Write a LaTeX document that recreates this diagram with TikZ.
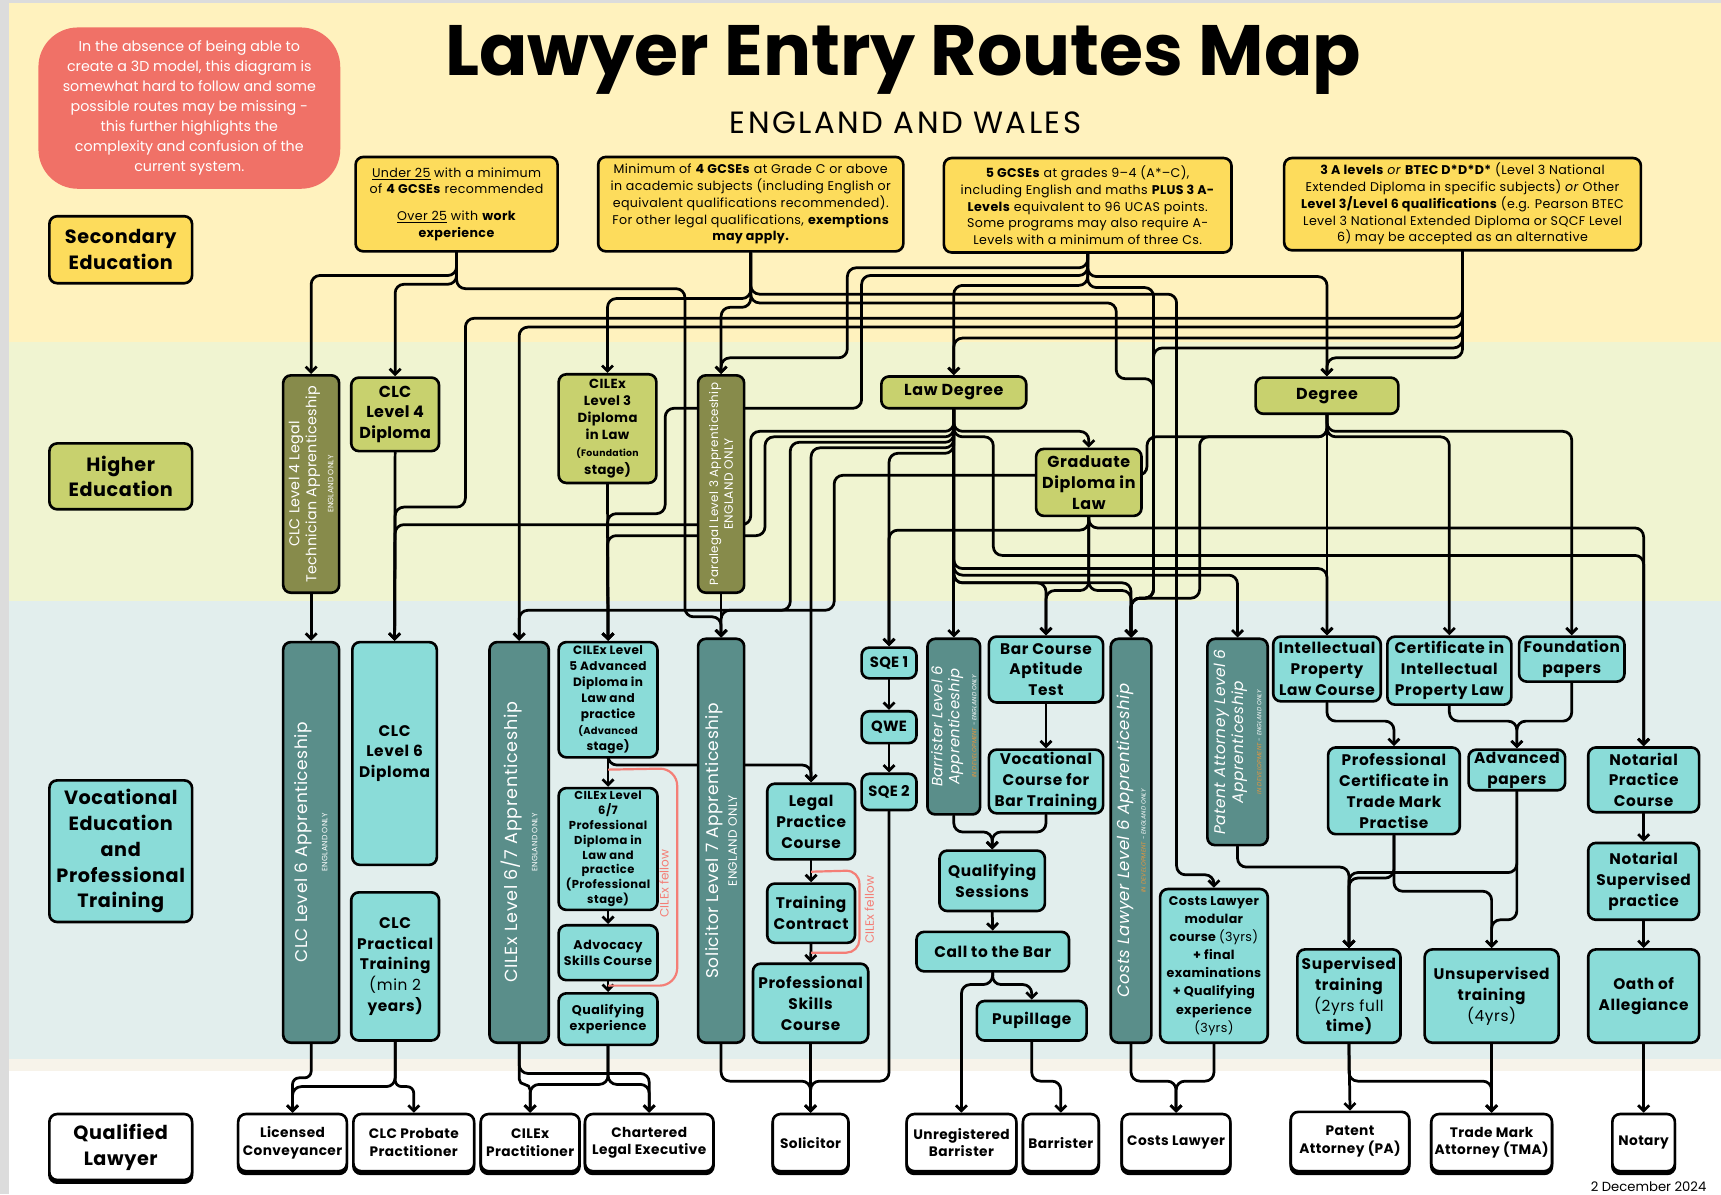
\documentclass[tikz,border=0pt]{standalone}
\usepackage{fontspec}
\setmainfont{Poppins}
\usetikzlibrary{arrows.meta}
\definecolor{bandY}{HTML}{FFF2BE}
\definecolor{bandG}{HTML}{F0F4D1}
\definecolor{bandT}{HTML}{E2EEED}
\definecolor{bandB}{HTML}{F7F3EA}
\definecolor{greyedge}{HTML}{DCDCDC}
\definecolor{cY}{HTML}{FDDC5C}
\definecolor{cO}{HTML}{C8D16E}
\definecolor{cDO}{HTML}{878B4B}
\definecolor{cT}{HTML}{8ADCD8}
\definecolor{cDT}{HTML}{5A8E8A}
\definecolor{cRed}{HTML}{F07167}
\definecolor{cRedL}{HTML}{F47E76}
\definecolor{cOr}{HTML}{E8963C}
\newcommand\Fs[2]{\fontsize{#1}{#2}\selectfont}
\newcommand\Ls[1]{\addfontfeature{LetterSpace=#1}}
\newcommand\Bx[7]{\node[#6, minimum width={(#4-#2)*1pt}, minimum height={(#5-#3)*1pt}] (#1) at ({(#2+#4)/2},{(#3+#5)/2}) {#7};}
\pgfdeclarelayer{bg}
\pgfdeclarelayer{lines}
\pgfsetlayers{bg,lines,main}
\tikzset{
 box/.style={draw, line width=2.4pt, rounded corners=7pt, align=center, inner sep=0pt},
 ybox/.style={box, fill=cY, font=\Fs{11.5}{15.3}\Ls{3}},
 obox/.style={box, fill=cO, font=\bfseries\Fs{14.5}{19}\Ls{4}},
 dobox/.style={box, fill=cDO},
 tbox/.style={box, fill=cT, font=\bfseries\Fs{14}{19}\Ls{4}},
 dtbox/.style={box, fill=cDT},
 wbox/.style={box, fill=white, font=\bfseries\Fs{12.5}{16}\Ls{3}, preaction={draw, fill=black, transform canvas={yshift=-2.5pt}}},
 lblbox/.style={box, font=\bfseries\Fs{17.5}{23.5}\Ls{3}},
 vtext/.style={rotate=90, text=white, align=center, inner sep=0pt},
 conn/.style={draw, line width=2.5pt, rounded corners=8pt, line cap=round, line join=round, -{Straight Barb[length=5pt,width=10pt]}},
 redln/.style={draw=cRedL, line width=2pt, rounded corners=16pt},
 redlbl/.style={rotate=90, text=cRedL, font=\Fs{11}{12}, inner sep=0pt}
}
\begin{document}
\begin{tikzpicture}[x=1pt,y=-1pt]
\useasboundingbox (0,0) rectangle (1568,1088);
\begin{pgfonlayer}{bg}
\fill[white] (0,0) rectangle (1568,1088);
\fill[greyedge] (0,0) rectangle (1568,3);
\fill[greyedge] (0,0) rectangle (8,1088);
\fill[bandY] (8,3) rectangle (1568,312);
\fill[bandG] (8,312) rectangle (1568,548);
\fill[bandT] (8,548) rectangle (1568,965);
\fill[bandB] (8,965) rectangle (1568,976);
\end{pgfonlayer}

% title
\node[font=\bfseries\Fs{65}{70}, inner sep=0pt] (title) at (823,55) {Lawyer Entry Routes Map};
\node[font=\Fs{28}{30}\Ls{8}, inner sep=0pt] (subtitle) at (825,112) {ENGLAND AND WALES};
\node[fill=cRed, rounded corners=36pt, minimum width=275pt, minimum height=147pt, text=white, align=center, font=\Fs{13}{18.3}, inner sep=0pt] (note) at (172.5,98.5) {In the absence of being able to\\create a 3D model, this diagram is\\somewhat hard to follow and some\\possible routes may be missing -\\this further highlights the\\complexity and confusion of the\\current system.};
\node[font=\Fs{12}{14}, anchor=south, inner sep=0pt] (date) at (1502,1086) {2 December 2024};

% row labels
\Bx{lsec}{45}{197}{175}{258}{lblbox, fill=cY}{Secondary\\Education}
\Bx{lhigh}{45}{404}{175}{464}{lblbox, fill=cO}{Higher\\Education}
\Bx{lvoc}{45}{711}{175}{840}{lblbox, fill=cT}{Vocational\\Education\\and\\Professional\\Training}
\Bx{lqual}{45}{1015}{175}{1075}{lblbox, fill=white, preaction={draw, fill=black, transform canvas={yshift=-2.5pt}}}{Qualified\\Lawyer}

% secondary
\Bx{s1}{324}{143}{508}{229}{ybox}{\underline{Under 25} with a minimum\\of \textbf{4 GCSEs} recommended\\[9pt]\underline{Over 25} with \textbf{work}\\\textbf{experience}}
\Bx{s2}{545}{143}{823}{229}{ybox}{Minimum of \textbf{4 GCSEs} at Grade C or above\\in academic subjects (including English or\\equivalent qualifications recommended).\\For other legal qualifications, \textbf{exemptions}\\\textbf{may apply.}}
\Bx{s3}{860}{144}{1122}{230}{ybox}{\textbf{5 GCSEs} at grades 9–4 (A*–C),\\including English and maths \textbf{PLUS 3 A-}\\\textbf{Levels} equivalent to 96 UCAS points.\\Some programs may also require A-\\Levels with a minimum of three Cs.}
\Bx{s4}{1170}{144}{1495}{228}{ybox}{\textbf{3 A levels} \textit{or} \textbf{BTEC D*D*D*} (Level 3 National\\Extended Diploma in specific subjects) \textit{or} Other\\\textbf{Level 3/Level 6 qualifications} (e.g. Pearson BTEC\\Level 3 National Extended Diploma or SQCF Level\\6) may be accepted as an alternative}

% higher
\Bx{ctech}{258}{342}{309}{540}{dobox}{}
\node[vtext, font=\Fs{13}{15.5}\Ls{2}] (ctecht) at (ctech.center) {CLC Level 4 Legal\\Technician Apprenticeship\\\Fs{7}{9}ENGLAND ONLY};
\Bx{clc4}{320}{344}{400}{411}{obox, font=\bfseries\Fs{14.5}{19}\Ls{2}}{CLC\\Level 4\\Diploma}
\Bx{cil3}{509}{341}{598}{440}{obox, font=\bfseries\Fs{12}{15.5}\Ls{3}}{CILEx\\Level 3\\Diploma\\in Law\\\Fs{8.5}{11}(Foundation\\stage)}
\Bx{para}{636}{342}{678}{540}{dobox}{}
\node[vtext, font=\Fs{10.8}{13.5}\Ls{3}] (parat) at (para.center) {Paralegal Level 3 Apprenticeship\\\Fs{11}{13}ENGLAND ONLY};
\Bx{lawdeg}{803}{343}{935}{372}{obox}{Law Degree}
\Bx{deg}{1144}{344}{1274}{377}{obox}{Degree}
\Bx{gdl}{944}{409}{1040}{470}{obox}{Graduate\\Diploma in\\Law}

% vocational
\Bx{capp}{258}{585}{309}{950}{dtbox}{}
\node[vtext, font=\Fs{15.5}{18}\Ls{3}] (cappt) at (capp.center) {CLC Level 6 Apprenticeship\\\Fs{7}{9}ENGLAND ONLY};
\Bx{clc6}{321}{585}{398}{788}{tbox}{CLC\\Level 6\\Diploma}
\Bx{clcpt}{320}{813}{400}{948}{tbox}{CLC\\Practical\\Training\\\mdseries (min 2\\years)}
\Bx{cilapp}{446}{585}{500}{950}{dtbox}{}
\node[vtext, font=\Fs{16}{18}\Ls{4}] (cilappt) at (cilapp.center) {CILEx Level 6/7 Apprenticeship\\\Fs{7}{9}ENGLAND ONLY};
\Bx{cil5}{509}{585}{599}{690}{tbox, font=\bfseries\Fs{11}{14.5}\Ls{3}}{CILEx Level\\5 Advanced\\Diploma in\\Law and\\practice\\\Fs{9}{12.5}(Advanced\\stage)}
\Bx{cil67}{509}{718}{599}{829}{tbox, font=\bfseries\Fs{10.5}{13.5}\Ls{4}}{CILEx Level\\6/7\\Professional\\Diploma in\\Law and\\practice\\(Professional\\stage)}
\Bx{advoc}{509}{843}{599}{893}{tbox, font=\bfseries\Fs{11.5}{15}\Ls{4}}{Advocacy\\Skills Course}
\Bx{qexp}{509}{905}{599}{952}{tbox, font=\bfseries\Fs{11.5}{15}\Ls{4}}{Qualifying\\experience}
\Bx{solapp}{636}{582}{678}{950}{dtbox}{}
\node[vtext, font=\Fs{15.5}{17}\Ls{3}] (solappt) at (solapp.center) {Solicitor Level 7 Apprenticeship\\\Fs{11}{13}ENGLAND ONLY};
\Bx{lpc}{699}{714}{779}{783}{tbox}{Legal\\Practice\\Course}
\Bx{tc}{699}{805}{779}{859}{tbox}{Training\\Contract}
\Bx{psc}{686}{878}{791}{950}{tbox}{Professional\\Skills\\Course}
\Bx{sqe1}{785}{590}{835}{618}{tbox, font=\bfseries\Fs{13.5}{19}\Ls{2}}{SQE 1}
\Bx{qwe}{785}{648}{835}{677}{tbox, font=\bfseries\Fs{13.5}{19}\Ls{2}}{QWE}
\Bx{sqe2}{785}{705}{835}{738}{tbox, font=\bfseries\Fs{13.5}{19}\Ls{2}}{SQE 2}
\Bx{barapp}{845}{582}{893}{742}{dtbox}{}
\node[vtext, font=\itshape\Fs{13.5}{15.5}\Ls{2}] (barappt) at (barapp.center) {Barrister Level 6\\Apprenticeship\\\Fs{5.5}{7}\textcolor{cOr}{IN DEVELOPMENT} - ENGLAND ONLY};
\Bx{bcat}{901}{580}{1005}{640}{tbox}{Bar Course\\Aptitude\\Test}
\Bx{vcbt}{901}{683}{1005}{741}{tbox}{Vocational\\Course for\\Bar Training}
\Bx{qs}{856}{775}{952}{830}{tbox}{Qualifying\\Sessions}
\Bx{ctb}{835}{849}{974}{885}{tbox}{Call to the Bar}
\Bx{pup}{890}{912}{990}{948}{tbox}{Pupillage}
\Bx{costapp}{1012}{582}{1049}{950}{dtbox}{}
\node[vtext, font=\itshape\Fs{15}{15}\Ls{3}] (costappt) at (costapp.center) {Costs Lawyer Level 6 Apprenticeship\\\Fs{5.5}{7}\textcolor{cOr}{IN DEVELOPMENT} - ENGLAND ONLY};
\Bx{costmod}{1057}{810}{1155}{950}{tbox, font=\bfseries\Fs{11.5}{16.5}\Ls{3}}{Costs Lawyer\\modular\\course {\mdseries(3yrs)}\\+ final\\examinations\\+ Qualifying\\experience\\\mdseries(3yrs)}
\Bx{patapp}{1100}{582}{1155}{770}{dtbox}{}
\node[vtext, font=\itshape\Fs{14}{16.5}\Ls{3}] (patappt) at (patapp.center) {Patent Attorney Level 6\\Apprenticeship\\\Fs{5.5}{7}\textcolor{cOr}{IN DEVELOPMENT} - ENGLAND ONLY};
\Bx{iplaw}{1160}{580}{1258}{639}{tbox}{Intellectual\\Property\\Law Course}
\Bx{certip}{1264}{580}{1377}{642}{tbox}{Certificate in\\Intellectual\\Property Law}
\Bx{found}{1384}{580}{1480}{621}{tbox}{Foundation\\papers}
\Bx{pctm}{1210}{681}{1330}{760}{tbox}{Professional\\Certificate in\\Trade Mark\\Practise}
\Bx{advp}{1338}{683}{1426}{720}{tbox}{Advanced\\papers}
\Bx{notpc}{1447}{681}{1548}{740}{tbox}{Notarial\\Practice\\Course}
\Bx{notsp}{1447}{768}{1548}{838}{tbox}{Notarial\\Supervised\\practice}
\Bx{oath}{1447}{865}{1548}{950}{tbox}{Oath of\\Allegiance}
\Bx{suptr}{1182}{865}{1276}{950}{tbox}{Supervised\\training\\\mdseries (2yrs full\\time)}
\Bx{unsup}{1298}{865}{1420}{950}{tbox}{Unsupervised\\training\\\mdseries (4yrs)}

% qualified
\Bx{lc}{217}{1015}{316}{1067}{wbox}{Licensed\\Conveyancer}
\Bx{cpp}{322}{1015}{432}{1067}{wbox}{CLC Probate\\Practitioner}
\Bx{cpr}{438}{1015}{528}{1067}{wbox}{CILEx\\Practitioner}
\Bx{cle}{533}{1015}{650}{1067}{wbox}{Chartered\\Legal Executive}
\Bx{sol}{704}{1015}{773}{1067}{wbox}{Solicitor}
\Bx{ubar}{826}{1015}{926}{1067}{wbox}{Unregistered\\Barrister}
\Bx{bar}{932}{1015}{1001}{1067}{wbox}{Barrister}
\Bx{cl}{1022}{1015}{1121}{1067}{wbox}{Costs Lawyer}
\Bx{pa}{1176}{1013}{1284}{1067}{wbox}{Patent\\Attorney (PA)}
\Bx{tma}{1304}{1015}{1414}{1067}{wbox}{Trade Mark\\Attorney (TMA)}
\Bx{notary}{1469}{1015}{1526}{1067}{wbox}{Notary}

\node[redlbl] (fel1) at (605,805) {CILEx fellow};
\node[redlbl] (fel2) at (792,829) {CILEx fellow};

\begin{pgfonlayer}{lines}
% secondary -> higher
\draw[conn] (s1.south) -- (416,251) -- (283.5,251) -- (ctech.north);
\draw[conn] (s1.south) -- (416,259) -- (360,259) -- (clc4.north);
\draw[conn] (s1.south) -- (416,263) -- (624,263) -- (624,562) -- (657,562) -- (solapp.north);
\draw[conn] (s2.south) -- (684,272) -- (553.5,272) -- (cil3.north);
\draw[conn] (s2.south) -- (684,280) -- (657,280) -- (para.north);
\draw[conn] (s2.south) -- (684,268) -- (1072,268) -- (1072,797) -- (1106,797) -- (costmod.north);
\draw[conn] (s2.south) -- (684,276) -- (1017,276) -- (1017,345) -- (1051,345) -- (1051,545) -- (1030.5,545) -- (costapp.north);
\draw[conn] (s3.south) -- (991,244) -- (772,244) -- (772,326) -- (657,326) -- (para.north);
\draw[conn] (s3.south) -- (991,251) -- (785,251) -- (785,372) -- (606,372) -- (606,468) -- (553.5,468) -- (cil5.north);
\draw[conn] (s3.south) -- (991,260) -- (869,260) -- (lawdeg.north);
\draw[conn] (s3.south) -- (991,252) -- (1209,252) -- (deg.north);
\draw[conn] (s3.south) -- (991,262) -- (1051,262) -- (1051,545) -- (1030.5,545) -- (costapp.north);
\draw[conn] (s4.south) -- (1332.5,290) -- (424,290) -- (424,462) -- (360,462) -- (clc6.north);
\draw[conn] (s4.south) -- (1332.5,298) -- (473,298) -- (cilapp.north);
\draw[conn] (s4.south) -- (1332.5,308) -- (869,308) -- (lawdeg.north);
\draw[conn] (s4.south) -- (1332.5,317) -- (1051,317) -- (1051,545) -- (1030.5,545) -- (costapp.north);
\draw[conn] (s4.south) -- (1332.5,326) -- (1209,326) -- (deg.north);
% higher -> vocational
\draw[conn] (ctech.south) -- (capp.north);
\draw[conn] (clc4.south) -- (clc6.north);
\draw[conn] (cil3.south) -- (cil5.north);
\draw[conn] (para.south) -- (solapp.north);
% law degree
\draw[conn] (lawdeg.south) -- (869,393) -- (684,393) -- (684,478) -- (360,478) -- (clc6.north);
\draw[conn] (lawdeg.south) -- (869,398) -- (697,398) -- (697,488) -- (553.5,488) -- (cil5.north);
\draw[conn] (lawdeg.south) -- (869,403) -- (720,403) -- (720,556) -- (657,556) -- (solapp.north);
\draw[conn] (lawdeg.south) -- (869,408) -- (739,408) -- (lpc.north);
\draw[conn] (lawdeg.south) -- (869,413) -- (810,413) -- (sqe1.north);
\draw[conn] (lawdeg.south) -- (barapp.north);
\draw[conn] (lawdeg.south) -- (869,393) -- (992,393) -- (gdl.north);
\draw[conn] (lawdeg.south) -- (869,398) -- (905,398) -- (905,506) -- (1497.5,506) -- (notpc.north);
\draw[conn] (lawdeg.south) -- (869,518) -- (1209,518) -- (iplaw.north);
\draw[conn] (lawdeg.south) -- (869,524) -- (1127.5,524) -- (patapp.north);
\draw[conn] (lawdeg.south) -- (869,531) -- (953,531) -- (bcat.north);
\draw[conn] (lawdeg.south) -- (869,531) -- (1030.5,531) -- (costapp.north);
% GDL
\draw[conn] (gdl.south) -- (992,483) -- (810,483) -- (sqe1.north);
\draw[conn] (gdl.south) -- (992,481) -- (1497.5,481) -- (notpc.north);
\draw[conn] (gdl.south) -- (992,538) -- (953,538) -- (bcat.north);
\draw[conn] (gdl.south) -- (992,538) -- (1030.5,538) -- (costapp.north);
% degree
\draw[conn] (deg.south) -- (iplaw.north);
\draw[conn] (deg.south) -- (1209,398) -- (1320.5,398) -- (certip.north);
\draw[conn] (deg.south) -- (1209,393) -- (1432,393) -- (found.north);
\draw[conn] (deg.south) -- (1209,398) -- (1093,398) -- (1093,545) -- (1030.5,545) -- (costapp.north);
\draw[conn] (deg.south) -- (1209,398) -- (1045,398) -- (1045,433) -- (760,433) -- (760,556) -- (473,556) -- (cilapp.north);
% vocational inner
\draw[conn] (cil5.south) -- (cil67.north);
\draw[conn] (cil67.south) -- (advoc.north);
\draw[conn] (advoc.south) -- (qexp.north);
\draw[conn] (cil5.south) -- (554,697) -- (739,697) -- (lpc.north);
\draw[conn] (lpc.south) -- (tc.north);
\draw[conn] (tc.south) -- (psc.north);
\draw[conn] (sqe1.south) -- (qwe.north);
\draw[conn] (qwe.south) -- (sqe2.north);
\draw[conn] (bcat.south) -- (vcbt.north);
\draw[conn] (barapp.south) -- (869,758) -- (904,758) -- (qs.north);
\draw[conn] (vcbt.south) -- (953,758) -- (904,758) -- (qs.north);
\draw[conn] (qs.south) -- (ctb.north);
\draw[conn] (ctb.south) -- (904,897) -- (940,897) -- (pup.north);
\draw[conn] (ctb.south) -- (904,897) -- (876,897) -- (ubar.north);
\draw[conn] (iplaw.south) -- (1209,657) -- (1270,657) -- (pctm.north);
\draw[conn] (certip.south) -- (1320.5,657) -- (1382,657) -- (advp.north);
\draw[conn] (found.south) -- (1432,657) -- (1382,657) -- (advp.north);
\draw[conn] (patapp.south) -- (1127.5,790) -- (1229,790) -- (suptr.north);
\draw[conn] (pctm.south) -- (1270,800) -- (1229,800) -- (suptr.north);
\draw[conn] (pctm.south) -- (1270,812) -- (1359,812) -- (unsup.north);
\draw[conn] (advp.south) -- (1382,795) -- (1229,795) -- (suptr.north);
\draw[conn] (advp.south) -- (1382,838) -- (1359,838) -- (unsup.north);
\draw[conn] (notpc.south) -- (notsp.north);
\draw[conn] (notsp.south) -- (oath.north);
% red brackets
\draw[redln] (cil5.south) ++(0,10) -- (617,700) -- (617,898) -- (554,898);
\draw[redln, rounded corners=12pt] (lpc.south) ++(0,10) -- (783,793) -- (783,868) -- (739,868);
% to qualified
\draw[conn, rounded corners=6pt] (capp.south) -- (283.5,982) -- (266.5,982) -- (lc.north);
\draw[conn] (clcpt.south) -- (360,990) -- (266.5,990) -- (lc.north);
\draw[conn, rounded corners=6pt] (clcpt.south) -- (360,990) -- (377,990) -- (cpp.north);
\draw[conn, rounded corners=5pt] (cilapp.south) -- (473,988) -- (483,988) -- (cpr.north);
\draw[conn] (cilapp.south) -- (473,978) -- (591.5,978) -- (cle.north);
\draw[conn] (qexp.south) -- (554,988) -- (483,988) -- (cpr.north);
\draw[conn] (qexp.south) -- (554,988) -- (591.5,988) -- (cle.north);
\draw[conn] (solapp.south) -- (657,985) -- (738.5,985) -- (sol.north);
\draw[conn] (psc.south) -- (sol.north);
\draw[conn] (sqe2.south) -- (810,985) -- (738.5,985) -- (sol.north);
\draw[conn] (pup.south) -- (940,985) -- (966.5,985) -- (bar.north);
\draw[conn] (costapp.south) -- (1030.5,985) -- (1071.5,985) -- (cl.north);
\draw[conn] (costmod.south) -- (1106,985) -- (1071.5,985) -- (cl.north);
\draw[conn] (suptr.south) -- (pa.north);
\draw[conn] (suptr.south) -- (1229,985) -- (1359,985) -- (tma.north);
\draw[conn] (unsup.south) -- (tma.north);
\draw[conn] (oath.south) -- (notary.north);
\end{pgfonlayer}
\end{tikzpicture}
\end{document}
